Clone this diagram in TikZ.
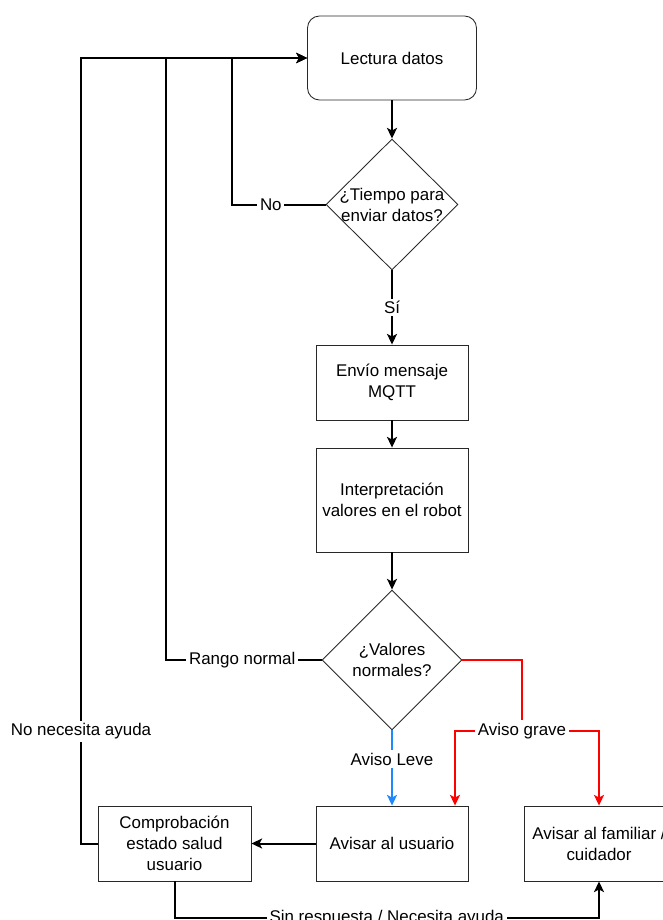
\documentclass[tikz,border=0pt]{standalone}
\usepackage{fontspec}
\setmainfont{Liberation Sans}
\usetikzlibrary{shapes.geometric,arrows.meta}
\newdimen\px \px=0.75pt
\newcommand\diafont{\fontsize{12.7}{15.75}\selectfont}
\definecolor{alertred}{RGB}{255,0,0}
\definecolor{leveblue}{RGB}{30,136,255}
\definecolor{edgegray}{RGB}{40,40,40}
\tikzset{
  box/.style={draw=edgegray, line width=0.65pt, minimum width=152\px, minimum height=75\px, inner sep=0pt, align=center, font=\diafont},
  rbox/.style={box, rounded corners=12\px},
  dia/.style={draw=edgegray, diamond, line width=0.65pt, inner sep=0pt},
  txt/.style={align=center, font=\diafont, inner sep=0pt},
  conn/.style={line width=1.5pt, -{Stealth[length=8pt,width=7.5pt,inset=2pt]}},
  lbl/.style={fill=white, text=black, inner sep=2pt, font=\diafont}
}
\begin{document}
\begin{tikzpicture}[x=\px,y=-\px]
\useasboundingbox (0,0) rectangle (662,920);
% nodes
\node[rbox, minimum width=169\px, minimum height=84\px] (lect) at (392,58) {Lectura datos};
\node[dia, minimum width=132\px, minimum height=131\px] (d1) at (392,204.5) {};
\node[txt] (d1t) at (d1) {¿Tiempo para\\enviar datos?};
\node[box] (mqtt) at (392,382.5) {Envío mensaje\\MQTT};
\node[box, minimum height=104\px] (interp) at (392,500) {Interpretación\\valores en el robot};
\node[dia, minimum width=140\px, minimum height=140\px] (d2) at (392,660) {};
\node[txt] (d2t) at (d2) {¿Valores\\normales?};
\node[box] (avu) at (392,843.5) {Avisar al usuario};
\node[box, minimum width=153\px] (comp) at (174.5,843.5) {Comprobación\\estado salud\\usuario};
\node[box, minimum width=150\px] (fam) at (599,843.5) {Avisar al familiar /\\cuidador};
% main flow
\draw[conn] (lect.south) -- (d1.north);
\draw[conn] (d1.south) -- node[lbl] {Sí} (mqtt.north);
\draw[conn] (mqtt.south) -- (interp.north);
\draw[conn] (interp.south) -- (d2.north);
% loops back
\draw[conn] (d1.west) -- node[lbl, pos=0.585] {No} (232,204.5) |- (lect.west);
\draw[conn] (d2.west) -- node[lbl, pos=0.51] {Rango normal} (166,660) |- (lect.west);
\draw[conn] (comp.west) -- (81,843.5) -- node[lbl, pos=0.143] {No necesita ayuda} (81,58) -- (lect.west);
% alerts
\draw[conn, alertred] (d2.east) -| (522,731) -| ([xshift=63\px]avu.north);
\draw[conn, alertred] (d2.east) -| (522,731) -| (fam.north);
\node[lbl] (ag) at (522,731) {Aviso grave};
\draw[conn, leveblue] (d2.south) -- node[lbl, pos=0.38] {Aviso Leve} (avu.north);
\draw[conn] (avu.west) -- (comp.east);
\draw[conn] (comp.south) -- (174.5,918) -| node[lbl, pos=0.25] {Sin respuesta / Necesita ayuda} (fam.south);
\end{tikzpicture}
\end{document}
